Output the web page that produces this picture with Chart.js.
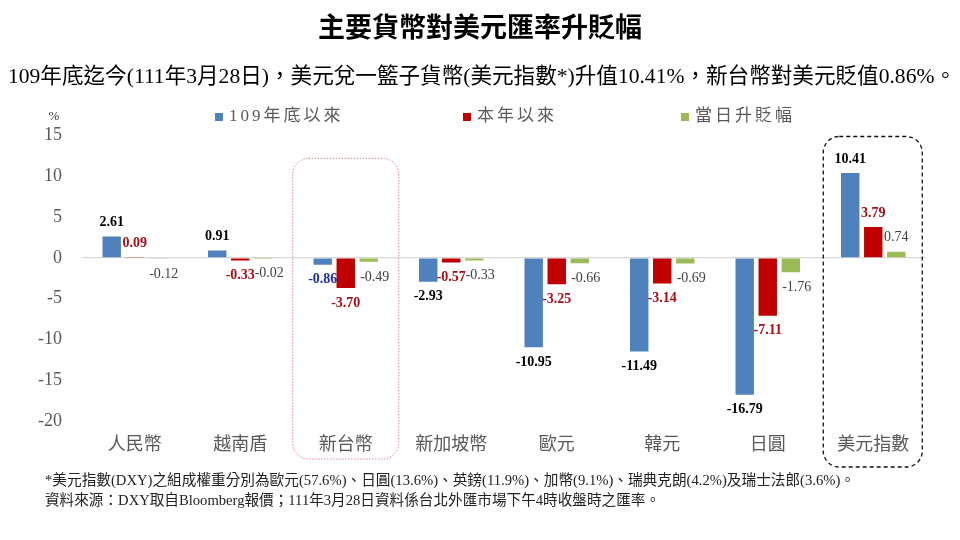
<!DOCTYPE html>
<html>
<head>
<meta charset="utf-8">
<script src="https://cdn.jsdelivr.net/npm/chart.js@4/dist/chart.umd.min.js"></script>
<style>
html,body{margin:0;padding:0;background:#fff;}
canvas{display:block;}
</style>
</head>
<body>
<canvas id="c" width="960" height="540"></canvas>
<script>
const titleText = '主要貨幣對美元匯率升貶幅';
const subtitleText = '109年底迄今(111年3月28日)，美元兌一籃子貨幣(美元指數*)升值10.41%，新台幣對美元貶值0.86%。';
const footnotes = [
  '*美元指數(DXY)之組成權重分別為歐元(57.6%)、日圓(13.6%)、英鎊(11.9%)、加幣(9.1%)、瑞典克朗(4.2%)及瑞士法郎(3.6%)。',
  '資料來源：DXY取自Bloomberg報價；111年3月28日資料係台北外匯市場下午4時收盤時之匯率。'
];
const unitLabel = '%';
const categories = ['人民幣','越南盾','新台幣','新加坡幣','歐元','韓元','日圓','美元指數'];
const seriesNames = ['109年底以來','本年以來','當日升貶幅'];
const since109 = [2.61, 0.91, -0.86, -2.93, -10.95, -11.49, -16.79, 10.41];
const thisYear = [0.09, -0.33, -3.70, -0.57, -3.25, -3.14, -7.11, 3.79];
const today = [-0.12, -0.02, -0.49, -0.33, -0.66, -0.69, -1.76, 0.74];
const yTicks = [15, 10, 5, 0, -5, -10, -15, -20];
const highlightCategory = '新台幣';
const indexCategory = '美元指數';

const SERIF = '"Liberation Serif", "Noto Sans CJK TC", serif';
const CJK = '"Liberation Serif", "Noto Sans CJK TC", sans-serif';
const colors = ['#4f81bd', '#c00000', '#9bbb59'];

const labelStyle = [
  {color: '#000000', weight: 'bold', dxNeg: 0},
  {color: '#a50f15', weight: 'bold', dxNeg: 0},
  {color: '#404040', weight: 'normal', dxNeg: 6}
];

const decorPlugin = {
  id: 'decor',
  afterDraw(chart) {
    const ctx = chart.ctx;
    const xs = chart.scales.x, ys = chart.scales.y;
    const area = chart.chartArea;
    ctx.save();
    // Title
    ctx.fillStyle = '#000';
    ctx.textAlign = 'center';
    ctx.textBaseline = 'middle';
    ctx.font = 'bold 27px "Noto Sans CJK TC", sans-serif';
    ctx.fillText(titleText, 480, 27);
    // Subtitle
    ctx.textAlign = 'left';
    ctx.font = '22px ' + CJK;
    ctx.fillText(subtitleText, 8, 77, 948);
    // Unit
    ctx.font = '13px ' + SERIF;
    ctx.fillStyle = '#333';
    ctx.textAlign = 'center';
    ctx.fillText(unitLabel, 54, 117);
    // Legend
    const legendBoxX = [215, 463, 681];
    ctx.textAlign = 'left';
    ctx.font = '17px ' + CJK;
    chart.data.datasets.forEach((ds, i) => {
      ctx.fillStyle = ds.backgroundColor;
      ctx.fillRect(legendBoxX[i], 113, 8, 8);
      ctx.fillStyle = '#595959';
      try { ctx.letterSpacing = '3px'; } catch (e) {}
      ctx.fillText(ds.label, legendBoxX[i] + 14, 117);
      try { ctx.letterSpacing = '0px'; } catch (e) {}
    });
    // Footnotes
    ctx.fillStyle = '#222';
    ctx.font = '15px ' + CJK;
    ctx.fillText(footnotes[0], 45, 481, 810);
    ctx.fillText(footnotes[1], 45, 501, 615);

    // Highlight boxes
    const roundRect = (x, y, w, h, r) => {
      ctx.beginPath();
      ctx.moveTo(x + r, y);
      ctx.lineTo(x + w - r, y);
      ctx.arcTo(x + w, y, x + w, y + r, r);
      ctx.lineTo(x + w, y + h - r);
      ctx.arcTo(x + w, y + h, x + w - r, y + h, r);
      ctx.lineTo(x + r, y + h);
      ctx.arcTo(x, y + h, x, y + h - r, r);
      ctx.lineTo(x, y + r);
      ctx.arcTo(x, y, x + r, y, r);
      ctx.closePath();
      ctx.stroke();
    };
    const hi = categories.indexOf(highlightCategory);
    const hx = xs.getPixelForValue(hi);
    ctx.strokeStyle = '#c0504d';
    ctx.lineWidth = 1;
    ctx.setLineDash([1, 2]);
    const hTop = ys.getPixelForValue(12.2);
    roundRect(hx - 53, hTop, 106, area.bottom + 38 - hTop, 16);
    const ii = categories.indexOf(indexCategory);
    const ix = xs.getPixelForValue(ii);
    ctx.strokeStyle = '#111';
    ctx.lineWidth = 1.3;
    ctx.setLineDash([4, 3]);
    const iTop = ys.getPixelForValue(15) + 1;
    roundRect(ix - 50, iTop, 99, area.bottom + 46 - iTop, 16);
    ctx.setLineDash([]);

    // Data labels
    ctx.textAlign = 'center';
    ctx.textBaseline = 'middle';
    chart.data.datasets.forEach((ds, di) => {
      const meta = chart.getDatasetMeta(di);
      const st = labelStyle[di];
      meta.data.forEach((bar, j) => {
        const v = ds.data[j];
        let color = st.color;
        if (di === 0 && categories[j] === highlightCategory) color = '#1f2aa8';
        ctx.fillStyle = color;
        ctx.font = st.weight + ' 14px ' + SERIF;
        const y = v >= 0 ? bar.y - 14 : bar.y + 15;
        const x = bar.x + (v < 0 ? st.dxNeg : 0);
        ctx.fillText(v.toFixed(2), x, y);
      });
    });
    ctx.restore();
  }
};

new Chart(document.getElementById('c'), {
  type: 'bar',
  data: {
    labels: categories,
    datasets: [
      {label: seriesNames[0], data: since109, backgroundColor: colors[0]},
      {label: seriesNames[1], data: thisYear, backgroundColor: colors[1]},
      {label: seriesNames[2], data: today, backgroundColor: colors[2]}
    ]
  },
  options: {
    responsive: false,
    animation: false,
    devicePixelRatio: 1,
    layout: {padding: {top: 135.5, right: 34, bottom: 0, left: 0}},
    datasets: {bar: {categoryPercentage: 0.655, barPercentage: 0.8}},
    plugins: {
      legend: {display: false},
      title: {display: false},
      tooltip: {enabled: false}
    },
    scales: {
      x: {
        grid: {display: false, drawTicks: false},
        border: {display: false},
        ticks: {color: '#595959', font: {family: CJK, size: 18}, padding: 13, maxRotation: 0, autoSkip: false},
        afterFit(scale) { scale.height = 119; }
      },
      y: {
        min: -20, max: 15,
        afterBuildTicks(scale) { scale.ticks = yTicks.map(v => ({value: v})); },
        grid: {
          drawTicks: false,
          color: (c) => (c.tick && c.tick.value === 0) ? '#d9d9d9' : 'rgba(0,0,0,0)',
          lineWidth: 1.3
        },
        border: {display: false},
        ticks: {color: '#595959', font: {family: SERIF, size: 18}, padding: 20},
        afterFit(scale) { scale.width = 82; }
      }
    }
  },
  plugins: [decorPlugin]
});
</script>
</body>
</html>
